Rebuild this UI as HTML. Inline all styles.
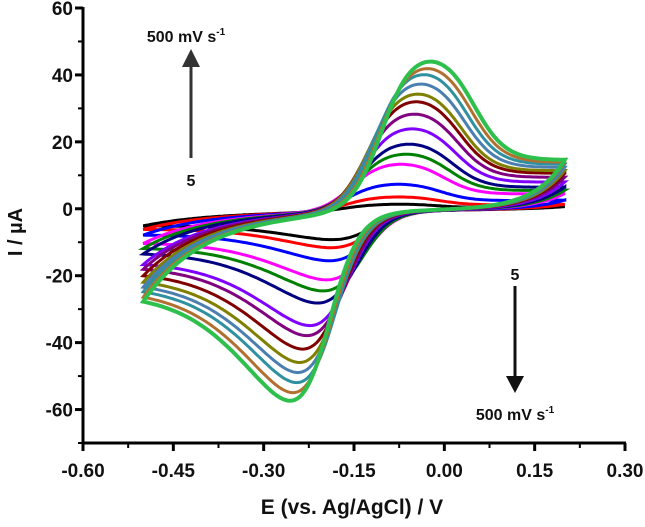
<!DOCTYPE html>
<html><head><meta charset="utf-8"><style>
html,body{margin:0;padding:0;background:#fff;}
svg text{font-family:"Liberation Sans",Arial,sans-serif;font-weight:bold;fill:#111;}
</style></head><body>
<svg id="chart" width="645" height="522" viewBox="0 0 645 522" xmlns="http://www.w3.org/2000/svg">
<g id="curves"></g>
<g id="axes"></g>
<g>
<text x="186" y="42" font-size="16" text-anchor="middle">500 mV s<tspan font-size="10" dy="-7">-1</tspan></text>
<line x1="191" y1="158" x2="191" y2="64" stroke="#333" stroke-width="3"/>
<polygon points="182,67 200,67 191,49" fill="#333"/>
<text x="191" y="186" font-size="16" text-anchor="middle">5</text>
<text x="515" y="280" font-size="16" text-anchor="middle">5</text>
<line x1="515" y1="286" x2="515" y2="378" stroke="#111" stroke-width="3"/>
<polygon points="506,376 524,376 515,393" fill="#111"/>
<text x="515" y="420" font-size="16" text-anchor="middle">500 mV s<tspan font-size="10" dy="-7">-1</tspan></text>
</g>
<text x="352" y="514" font-size="21" text-anchor="middle">E (vs. Ag/AgCl) / V</text>
<text x="22" y="232" font-size="20" text-anchor="middle" transform="rotate(-90 22 232)">I / µA</text>
</svg>
<script>
const anodicPeaks = [2, 4.2, 8, 14, 17, 20, 24.6, 29, 32.7, 35, 38, 40.8, 42.6, 44.7];
const cathodicPeaks = [-8.4, -10.8, -14.7, -20.4, -23.7, -27.3, -34, -37, -41, -45, -48, -51, -54, -56.4];
const anodicPotentials = [-0.085, -0.082, -0.079, -0.074, -0.065, -0.06, -0.055, -0.051, -0.048, -0.045, -0.04, -0.035, -0.029, -0.024];
const cathodicPotentials = [-0.185, -0.187, -0.19, -0.195, -0.201, -0.21, -0.223, -0.228, -0.235, -0.24, -0.243, -0.245, -0.251, -0.256];
const xTicks = [-0.60, -0.45, -0.30, -0.15, 0.00, 0.15, 0.30];
const yTicks = [-60, -40, -20, 0, 20, 40, 60];

const colors = ['#000000','#ff0000','#0000ff','#ff00ff','#008000','#000080','#8000ff','#800080','#800000','#808000','#4a7fb0','#2f90a0','#b07030','#2ec04c'];
const X0 = 83, X1 = 625, Y0 = 8, Y1 = 443;
const xMin = -0.6, xMax = 0.3, yMin = -70, yMax = 60;
const sx = v => X0 + (v - xMin) / (xMax - xMin) * (X1 - X0);
const sy = v => Y1 - (v - yMin) / (yMax - yMin) * (Y1 - Y0);
const NS = 'http://www.w3.org/2000/svg';

function rawShape(x, p, k, c) {
  const L = 1 / (1 + Math.exp(-1.8 * (x + 1.3)));
  return L * (p + (1 - p) / (1 + Math.exp(k * (x - c))));
}
function makeShape(p, k, c) {
  let m = 0, tm = 0;
  for (let t = -5; t <= 10; t += 0.005) { const r = rawShape(t, p, k, c); if (r > m) { m = r; tm = t; } }
  return x => rawShape(x + tm, p, k, c) / m;
}
const shapeA = makeShape(0.3, 1.7, 2.1);
const shapeC = makeShape(0.28, 0.65, 0.9);
const bg = E => -1.5 + (E + 0.5) / 0.7 * 1.5;
const tauF = 0.1, tauR = 0.05, w = 0.045;

const curves = document.getElementById('curves');
for (let i = 0; i < anodicPeaks.length; i++) {
  const ipa = anodicPeaks[i], ipc = cathodicPeaks[i], Ea = anodicPotentials[i], Ec = cathodicPotentials[i];
  const cStart = ipc * shapeC((Ec + 0.5) / w);
  const aEnd = ipa * shapeA((0.2 - Ea) / w);
  let d = '';
  for (let E = -0.5; E <= 0.2001; E += 0.004) {
    const I = ipa * shapeA((E - Ea) / w) + cStart * Math.exp(-(E + 0.5) / tauF) + bg(E);
    d += (d ? 'L' : 'M') + sx(E).toFixed(1) + ',' + sy(I).toFixed(1);
  }
  for (let E = 0.2; E >= -0.5001; E -= 0.004) {
    const I = ipc * shapeC((Ec - E) / w) + aEnd * Math.exp(-(0.2 - E) / tauR) + bg(E);
    d += 'L' + sx(E).toFixed(1) + ',' + sy(I).toFixed(1);
  }
  const p = document.createElementNS(NS, 'path');
  p.setAttribute('d', d + 'Z');
  p.setAttribute('fill', 'none');
  p.setAttribute('stroke', colors[i]);
  p.setAttribute('stroke-width', i === anodicPeaks.length - 1 ? 4 : 3);
  
  
  curves.appendChild(p);
}

const axes = document.getElementById('axes');
function add(tag, attrs, text) {
  const e = document.createElementNS(NS, tag);
  for (const k in attrs) e.setAttribute(k, attrs[k]);
  if (text !== undefined) e.textContent = text;
  axes.appendChild(e);
  return e;
}
let e;
e = add('line', {x1: X0, y1: Y0 - 1, x2: X0, y2: Y1 + 2, stroke: '#000', 'stroke-width': 3});


e = add('line', {x1: X0 - 1, y1: Y1, x2: X1 + 1, y2: Y1, stroke: '#000', 'stroke-width': 3});


yTicks.forEach((v, k) => {
  e = add('line', {x1: X0 - 8, y1: sy(v), x2: X0, y2: sy(v), stroke: '#000', 'stroke-width': 3});
  
  
  e = add('text', {x: X0 - 10, y: sy(v) + 7, 'font-size': 19, 'text-anchor': 'end'}, String(v));
  
  
  const m = v + 10;
  if (m < yMax) {
    e = add('line', {x1: X0 - 5, y1: sy(m), x2: X0, y2: sy(m), stroke: '#000', 'stroke-width': 2});
    
    
  }
  if (k === 0) {
    e = add('line', {x1: X0 - 5, y1: sy(v - 10), x2: X0, y2: sy(v - 10), stroke: '#000', 'stroke-width': 2});
    
    
  }
});
xTicks.forEach(v => {
  e = add('line', {x1: sx(v), y1: Y1, x2: sx(v), y2: Y1 + 8, stroke: '#000', 'stroke-width': 3});
  
  
  e = add('text', {x: sx(v), y: 477, 'font-size': 19, 'text-anchor': 'middle'}, v.toFixed(2));
  
  
  if (v < xMax) {
    e = add('line', {x1: sx(v + 0.075), y1: Y1, x2: sx(v + 0.075), y2: Y1 + 5, stroke: '#000', 'stroke-width': 2});
    
    
  }
});
</script>
</body></html>
